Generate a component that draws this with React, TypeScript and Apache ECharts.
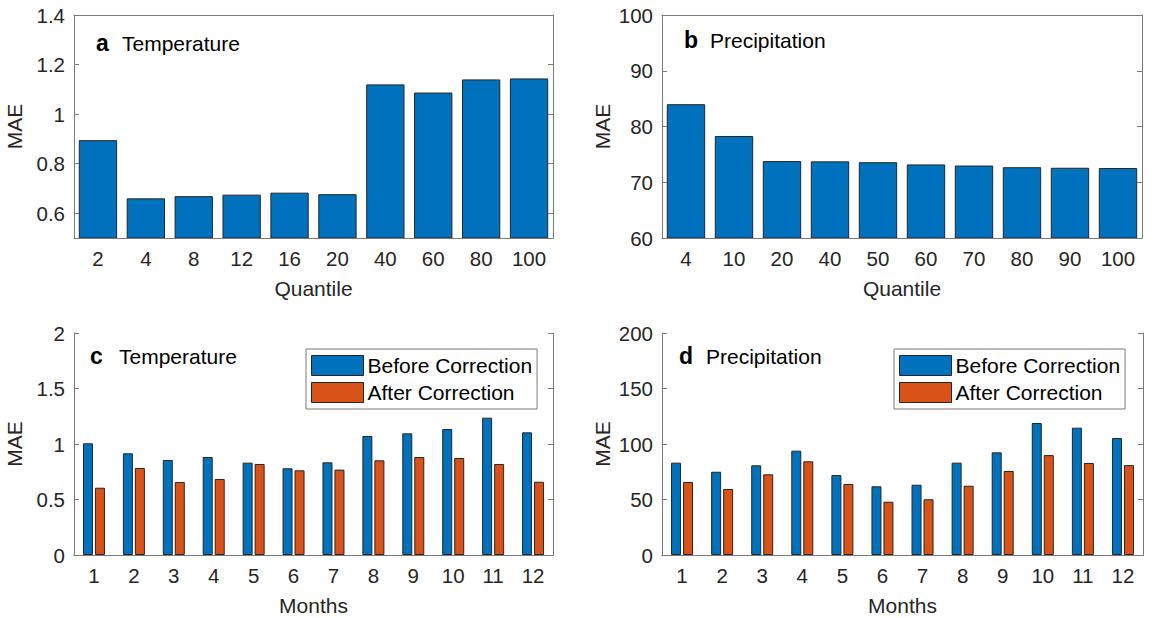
import React, { useEffect, useRef } from "react";
import * as echarts from "echarts";

const aCats = ["2", "4", "8", "12", "16", "20", "40", "60", "80", "100"];
const aVals = [0.895, 0.66, 0.669, 0.675, 0.683, 0.677, 1.12, 1.087, 1.14, 1.144];
const aTicks = [0.6, 0.8, 1, 1.2, 1.4];

const bCats = ["4", "10", "20", "40", "50", "60", "70", "80", "90", "100"];
const bVals = [84.0, 78.3, 73.8, 73.75, 73.6, 73.2, 73.0, 72.7, 72.6, 72.55];

const months = ["1", "2", "3", "4", "5", "6", "7", "8", "9", "10", "11", "12"];
const cBefore = [1.006, 0.916, 0.856, 0.883, 0.832, 0.781, 0.835, 1.072, 1.096, 1.135, 1.237, 1.105];
const cAfter = [0.606, 0.784, 0.658, 0.685, 0.82, 0.763, 0.769, 0.853, 0.883, 0.874, 0.82, 0.66];
const dBefore = [83.2, 75, 80.8, 94, 72, 61.9, 63.3, 83.2, 92.5, 118.9, 114.7, 105.4];
const dAfter = [65.8, 59.5, 72.7, 84.4, 64, 48, 50.2, 62.4, 75.7, 90, 82.9, 81];

const seriesNames = ["Before Correction", "After Correction"];

const FONT = "'Liberation Sans', Arial, Helvetica, sans-serif";
const BLUE = "#0072BD";
const ORANGE = "#D95319";
const AXIS = "#7a7a7a";
const TXT = "#262626";
const EDGE = "#262626";
const FS = 21;
const TFS = 20.5;

function xAxes(gridIndex: number, cats: string[], name: string) {
  return [
    {
      type: "category",
      gridIndex,
      data: cats,
      position: "bottom",
      name,
      nameLocation: "middle",
      nameGap: 40,
      nameTextStyle: { fontSize: FS, color: TXT, fontFamily: FONT },
      axisLine: { lineStyle: { color: AXIS, width: 1 } },
      axisTick: { inside: true, alignWithLabel: true, length: 5, lineStyle: { color: AXIS } },
      axisLabel: { fontSize: TFS, color: TXT, fontFamily: FONT, margin: 10 },
      z: 5,
    },
    {
      type: "category",
      gridIndex,
      data: cats,
      position: "top",
      axisLine: { lineStyle: { color: AXIS, width: 1 } },
      axisTick: { inside: true, alignWithLabel: true, length: 5, lineStyle: { color: AXIS } },
      axisLabel: { show: false },
      z: 5,
    },
  ];
}

function yAxes(gridIndex: number, min: number, max: number, interval: number | null, custom: number[] | null, nameGap: number) {
  const common: any = { type: "value", gridIndex, min, max, splitLine: { show: false }, z: 5 };
  if (interval !== null) common.interval = interval;
  const left: any = {
    ...common,
    position: "left",
    name: "MAE",
    nameLocation: "middle",
    nameGap,
    nameTextStyle: { fontSize: FS, color: TXT, fontFamily: FONT },
    axisLine: { show: true, lineStyle: { color: AXIS, width: 1 } },
    axisTick: { show: true, inside: true, length: 5, lineStyle: { color: AXIS } },
    axisLabel: { fontSize: TFS, color: TXT, fontFamily: FONT, margin: 9, showMinLabel: true, showMaxLabel: true },
  };
  const right: any = {
    ...common,
    position: "right",
    axisLine: { show: true, lineStyle: { color: AXIS, width: 1 } },
    axisTick: { show: true, inside: true, length: 5, lineStyle: { color: AXIS } },
    axisLabel: { show: false },
  };
  if (custom) {
    left.axisLabel.customValues = custom;
    left.axisTick.customValues = custom;
    right.axisTick.customValues = custom;
  }
  return [left, right];
}

function panelLabel(letter: string, title: string, lx: number, tx: number, y: number) {
  return [
    { type: "text", x: lx, y, style: { text: letter, fontSize: 23, fontWeight: "bold", fontFamily: FONT, fill: "#000", verticalAlign: "middle" } },
    { type: "text", x: tx, y, style: { text: title, fontSize: FS, fontFamily: FONT, fill: "#000", verticalAlign: "middle" } },
  ];
}

function legend(left: number) {
  return {
    data: seriesNames,
    orient: "vertical",
    left,
    top: 349,
    padding: [6, 5, 6, 5],
    itemWidth: 52,
    itemHeight: 20,
    itemGap: 6,
    icon: "rect",
    selectedMode: false,
    borderColor: AXIS,
    borderWidth: 1,
    backgroundColor: "#fff",
    itemStyle: { borderColor: EDGE, borderWidth: 1 },
    textStyle: { fontSize: FS, color: "#000", fontFamily: FONT, padding: [0, 0, 0, -1] },
  };
}

export default function App() {
  const ref = useRef<HTMLDivElement>(null);
  useEffect(() => {
    document.body.style.margin = "0";
    const chart = echarts.init(ref.current!, null, { renderer: "svg" });
    const barStyle = (c: string) => ({ color: c, borderColor: EDGE, borderWidth: 1 });
    const option: any = {
      animation: false,
      backgroundColor: "#fff",
      textStyle: { fontFamily: FONT },
      grid: [
        { left: 74, top: 15, width: 479, height: 223 },
        { left: 662, top: 15, width: 480, height: 223 },
        { left: 74, top: 333, width: 479, height: 222 },
        { left: 662, top: 333, width: 481, height: 222 },
      ],
      xAxis: [
        ...xAxes(0, aCats, "Quantile"),
        ...xAxes(1, bCats, "Quantile"),
        ...xAxes(2, months, "Months"),
        ...xAxes(3, months, "Months"),
      ],
      yAxis: [
        ...yAxes(0, 0.5, 1.4, null, aTicks, 49),
        ...yAxes(1, 60, 100, 10, null, 49),
        ...yAxes(2, 0, 2, 0.5, null, 49),
        ...yAxes(3, 0, 200, 50, null, 49),
      ],
      legend: [legend(306), legend(894)],
      graphic: [
        ...panelLabel("a", "Temperature", 96, 122, 43),
        ...panelLabel("b", "Precipitation", 684, 710, 40),
        ...panelLabel("c", "Temperature", 90, 119, 356),
        ...panelLabel("d", "Precipitation", 679, 706, 356),
      ],
      series: [
        { type: "bar", name: "a", xAxisIndex: 0, yAxisIndex: 0, data: aVals, barWidth: "80%", itemStyle: barStyle(BLUE) },
        { type: "bar", name: "b", xAxisIndex: 2, yAxisIndex: 2, data: bVals, barWidth: "80%", itemStyle: barStyle(BLUE) },
        { type: "bar", name: seriesNames[0], xAxisIndex: 4, yAxisIndex: 4, data: cBefore, barWidth: 10, barGap: "20%", itemStyle: barStyle(BLUE) },
        { type: "bar", name: seriesNames[1], xAxisIndex: 4, yAxisIndex: 4, data: cAfter, barWidth: 10, barGap: "20%", itemStyle: barStyle(ORANGE) },
        { type: "bar", name: seriesNames[0], xAxisIndex: 6, yAxisIndex: 6, data: dBefore, barWidth: 10, barGap: "20%", itemStyle: barStyle(BLUE) },
        { type: "bar", name: seriesNames[1], xAxisIndex: 6, yAxisIndex: 6, data: dAfter, barWidth: 10, barGap: "20%", itemStyle: barStyle(ORANGE) },
      ],
    };
    chart.setOption(option);
    return () => chart.dispose();
  }, []);
  return <div ref={ref} style={{ width: 1154, height: 618 }} />;
}
